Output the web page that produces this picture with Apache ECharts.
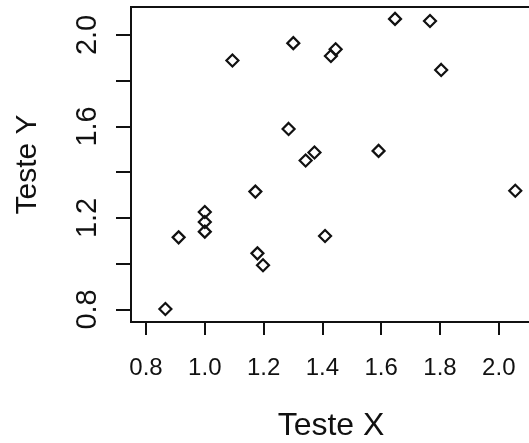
<!DOCTYPE html>
<html>
<head>
<meta charset="utf-8">
<script src="https://cdn.jsdelivr.net/npm/echarts@6/dist/echarts.min.js"></script>
<style>
  html, body { margin: 0; padding: 0; background: #fff; }
  #scatter { width: 529px; height: 443px; }
</style>
</head>
<body>
<div id="scatter"></div>
<script>
// values
const testeX = [0.866, 0.911, 1.0, 1.0, 1.0, 1.094, 1.172, 1.179, 1.198, 1.285, 1.301,
  1.343, 1.373, 1.409, 1.429, 1.445, 1.591, 1.647, 1.766, 1.804, 2.056];
const testeY = [0.802, 1.115, 1.226, 1.182, 1.140, 1.888, 1.315, 1.045, 0.993, 1.589, 1.964,
  1.451, 1.486, 1.121, 1.908, 1.937, 1.493, 2.070, 2.061, 1.847, 1.319];
const xTicks = [0.8, 1.0, 1.2, 1.4, 1.6, 1.8, 2.0];
const yTicks = [0.8, 1.0, 1.2, 1.4, 1.6, 1.8, 2.0];
const yLabels = [0.8, 1.2, 1.6, 2.0];

const ink = "#111";
const font = "Liberation Sans";
let myChart = echarts.init(document.getElementById("scatter"));
let option = {
  animation: false,
  grid: {
    left: 131,
    top: 7,
    right: -2,
    bottom: 121,
    containLabel: false,
    outerBoundsMode: "none",
    show: true,
    borderColor: ink,
    borderWidth: 2,
    backgroundColor: "transparent"
  },
  xAxis: {
    type: "value",
    min: 0.749,
    max: 2.1095,
    name: "Teste X",
    nameLocation: "middle",
    nameGap: 88,
    nameTextStyle: { color: ink, fontSize: 32, fontFamily: font },
    splitLine: { show: false },
    axisLine: { show: false },
    axisTick: {
      customValues: xTicks,
      length: 13,
      lineStyle: { color: ink, width: 2 }
    },
    axisLabel: {
      customValues: xTicks,
      margin: 34,
      color: ink,
      fontSize: 24,
      fontWeight: 500,
      fontFamily: font,
      formatter: v => v.toFixed(1)
    }
  },
  yAxis: {
    type: "value",
    min: 0.745,
    max: 2.122,
    name: "Teste Y",
    nameLocation: "middle",
    nameRotate: 90,
    nameGap: 88,
    nameTextStyle: { color: ink, fontSize: 30, fontFamily: font },
    splitLine: { show: false },
    axisLine: { show: false },
    axisTick: {
      customValues: yTicks,
      length: 15,
      lineStyle: { color: ink, width: 2 }
    },
    axisLabel: {
      customValues: yLabels,
      rotate: 90,
      margin: 29,
      color: ink,
      fontSize: 29,
      fontFamily: font,
      formatter: v => v.toFixed(1)
    }
  },
  series: [
    {
      type: "scatter",
      data: testeX.map((x, i) => [x, testeY[i]]),
      symbol: "diamond",
      symbolSize: 12,
      itemStyle: {
        color: "rgba(0,0,0,0)",
        borderColor: ink,
        borderWidth: 2.2,
        opacity: 1
      }
    }
  ]
};
myChart.setOption(option);
</script>
</body>
</html>
